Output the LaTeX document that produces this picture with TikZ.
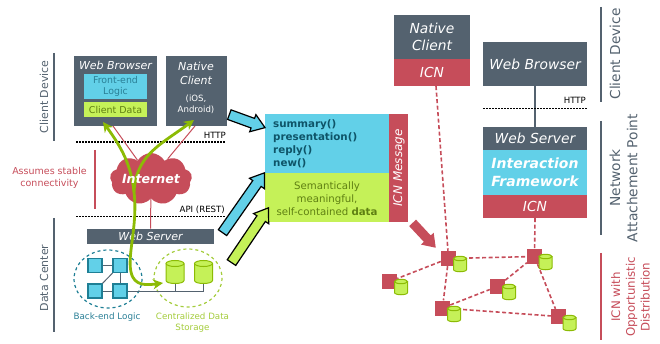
\documentclass[tikz,border=0pt]{standalone}
\usepackage{fontspec}
\setmainfont{DejaVu Sans}
\usepgflibrary{arrows.meta}
\usetikzlibrary{calc,shapes.symbols,shapes.arrows}
\definecolor{slate}{HTML}{54626F}
\definecolor{icnred}{HTML}{C64D5A}
\definecolor{sky}{HTML}{62D0E8}
\definecolor{lime}{HTML}{C5F158}
\definecolor{olive}{HTML}{8CBB05}
\definecolor{teal}{HTML}{1F7F95}
\definecolor{skytext}{HTML}{2A7F96}
\definecolor{darkteal}{HTML}{0E5468}
\definecolor{limetext}{HTML}{5F8012}
\definecolor{limelabel}{HTML}{A4CC3C}
\newcommand{\fs}[1]{\fontsize{#1}{\dimexpr#1pt*5/4\relax}\selectfont}

\begin{document}
\begin{tikzpicture}[
        x=1pt,
        y=-1pt,
        box/.style={
                rectangle,
                inner sep=0pt,
                text=white,
                align=center,
                font=\fs{11}\itshape
            },
        big box/.style={
                box,
                font=\fs{13.8}\itshape
            },
        side bar/.style={
                line width=2pt,
                draw=slate
            },
        side label/.style={
                rotate=90,
                text=slate,
                align=center
            },
        http line/.style={
                line width=1.6pt,
                dash pattern=on 1.5pt off 1.5pt
            },
        http label/.style={
                anchor=east,
                inner sep=0pt,
                font=\fs{8.6}
            },
        red link/.style={
                icnred,
                line width=1pt
            },
        red dash/.style={
                icnred,
                line width=1.6pt,
                dash pattern=on 4pt off 2.5pt
            },
        sync arrow/.style={
                olive,
                line width=2.8pt,
                arrows={-Stealth[length=10pt,width=10pt]}
            },
        block arrow/.style={
                single arrow,
                anchor=tip,
                inner sep=4.5pt,
                single arrow head extend=4pt,
                single arrow tip angle=70,
                single arrow head indent=0pt
            },
        logic node/.style={
                rectangle,
                inner sep=0pt,
                minimum size=14pt,
                fill=sky,
                draw=teal,
                line width=1.2pt
            },
        grey link/.style={
                slate,
                line width=1pt
            },
        store/.pic={
                \draw [fill=lime, draw=olive, line width=1pt] (-9,-8.5) -- (-9,8.5)
                    .. controls (-9,12.5) and (9,12.5) .. (9,8.5) -- (9,-8.5);
                \draw [fill=lime, draw=olive, line width=1pt] (0,-8.5) ellipse [x radius=9, y radius=3];
                \coordinate (-south) at (0,11.5);
            },
        small store/.pic={
                \draw [fill=lime, draw=olive, line width=1pt] (-6.5,-5.5) -- (-6.5,5.5)
                    .. controls (-6.5,8.5) and (6.5,8.5) .. (6.5,5.5) -- (6.5,-5.5);
                \draw [fill=lime, draw=olive, line width=1pt] (0,-5.5) ellipse [x radius=6.5, y radius=2.2];
            },
        icn node/.style={
                rectangle,
                inner sep=0pt,
                minimum size=15pt,
                fill=icnred
            }]
        \useasboundingbox (0,0) rectangle (660,344);

        \draw [side bar] (54,53) -- (54,141);
        \node [side label, font=\fs{11}] (client device) at (44,97) {Client Device};
        \draw [side bar] (54,218) -- (54,332);
        \node [side label, font=\fs{11}] (data center) at (44,278) {Data Center};

        \node [box, fill=slate, minimum width=83pt, minimum height=70pt] (browser) at (115.5,91) {};
        \node [box] (browser title) at (115.5,65) {Web Browser};
        \node [box, fill=sky, text=skytext, font=\fs{9.4}, minimum width=63pt, minimum height=25pt] (frontend) at (115.5,86.5) {Front-end\\Logic};
        \node [box, fill=lime, text=limetext, font=\fs{9.5}, minimum width=63pt, minimum height=15pt] (client data) at (115.5,110) {Client Data};
        \node [box, fill=slate, minimum width=61pt, minimum height=70pt] (native) at (196,91) {};
        \node [box] (native title) at (196,73.5) {Native\\Client};
        \node [box, font=\fs{8.6}] (native os) at (196,104.5) {(iOS,\\Android)};

        \coordinate (http west) at (76,142);
        \coordinate (http east) at (226,142);
        \coordinate (api west) at (76,216.5);
        \coordinate (api east) at (226,216.5);
        \draw [http line] (http west) -- (http east);
        \draw [http line] (api west) -- (api east);
        \node [http label] (http) at (226,135) {HTTP};
        \node [http label] (api) at (225,210) {API (REST)};

        \draw [icnred, line width=2pt] (95,150) -- (95,209);
        \node [text=icnred, align=center, font=\fs{9.5}] (stable) at (49.5,178) {Assumes stable\\connectivity};

        \node [cloud, cloud puffs=9, cloud puff arc=120, aspect=1.6, fill=icnred, inner sep=0pt, minimum width=82pt, minimum height=52pt] (cloud) at (151,179) {};
        \node [box, minimum width=127pt, minimum height=15.5pt, fill=slate] (server) at (150.5,236.5) {Web Server};
        \coordinate (browser link) at (113,126);
        \coordinate (native link) at (195,126);
        \draw [red link] (browser link) -- (cloud);
        \draw [red link] (native link) -- (cloud);
        \draw [red link] (cloud) -- (server);

        \draw [teal, line width=1.2pt, dash pattern=on 3pt off 3pt] (108,279) ellipse [x radius=34, y radius=29];
        \draw [limelabel, line width=1.2pt, dash pattern=on 3pt off 3pt] (188,278) ellipse [x radius=34, y radius=29];

        \node [logic node] (logic a) at (95,265.5) {};
        \node [logic node] (logic b) at (120,265.5) {};
        \node [logic node] (logic c) at (95,291) {};
        \node [logic node] (logic d) at (120,291) {};
        \pic (store a) at (175,272) {store};
        \pic (store b) at (203.5,272) {store};
        \draw [grey link] (logic a) -- (logic b);
        \draw [grey link] (logic b) -- (logic d);
        \draw [grey link] (logic c) -- (logic d);
        \draw [grey link] (logic c) -- (logic b);
        \draw [grey link] (logic d) -| (store a-south);
        \draw [grey link] (logic d) -| (store b-south);
        \node [text=skytext, font=\fs{8.8}] (logic label) at (107,317) {Back-end Logic};
        \node [text=limelabel, align=center, font=\fs{8.7}] (storage label) at (192.5,322.5) {Centralized Data\\Storage};

        \coordinate (hub) at (134,192);
        \coordinate (browser tip) at (103,122);
        \coordinate (native tip) at (194,120);
        \coordinate (store tip) at (163,283);
        \draw [sync arrow] (hub) .. controls (131,165) and (122,148) .. (browser tip);
        \draw [sync arrow] (hub) .. controls (136,155) and (160,145) .. (native tip);
        \draw [sync arrow] (hub) .. controls (138,225) and (127,255) .. (131,272) .. controls (134,287) and (148,285) .. (store tip);
        \node [box, font=\fs{12.6}\bfseries\itshape] (internet) at (151,179) {Internet};

        \node [box, fill=sky, minimum width=124pt, minimum height=59pt] (summary box) at (327,143.5) {};
        \node [box, fill=lime, minimum width=124pt, minimum height=49pt] (data box) at (327,197.5) {};
        \node [box, fill=icnred, minimum width=19pt, minimum height=108pt] (message box) at (398.5,168) {};
        \node [anchor=west, inner sep=0pt, align=left, text=darkteal, font=\fs{10.3}\bfseries] (calls) at (273,143.5) {summary()\\presentation()\\reply()\\new()};
        \node [text=limetext, align=center, inner sep=0pt, font=\fs{10.2}] (data text) at (327,198.5) {Semantically\\meaningful,\\self-contained \textbf{data}};
        \node [box, rotate=90, font=\fs{12}\itshape] (message label) at (399,168) {ICN Message};

        \node [block arrow, draw=black, line width=1.2pt, fill=sky, minimum height=38pt, rotate=-20] (arrow client) at (266,128) {};
        \node [block arrow, draw=black, line width=1.2pt, fill=sky, minimum height=73pt, rotate=55] (arrow logic) at (265,172) {};
        \node [block arrow, draw=black, line width=1.2pt, fill=lime, minimum height=66pt, rotate=56] (arrow data) at (269,207) {};
        \node [block arrow, fill=icnred, minimum height=34pt, rotate=-47] (arrow icn) at (436,248) {};

        \node [big box, fill=slate, minimum width=76pt, minimum height=44pt] (right native) at (432,37) {Native\\Client};
        \node [big box, fill=icnred, minimum width=76pt, minimum height=27pt] (right native icn) at (432,72.5) {ICN};

        \node [big box, fill=slate, minimum width=104pt, minimum height=44pt] (right browser) at (535,64) {Web Browser};
        \node [big box, fill=slate, minimum width=104pt, minimum height=23pt] (right server) at (535,138.5) {Web Server};
        \node [big box, fill=sky, minimum width=104pt, minimum height=45pt, font=\fs{14}\bfseries\itshape] (framework) at (535,172.5) {Interaction\\Framework};
        \node [big box, fill=icnred, minimum width=104pt, minimum height=23pt] (right icn) at (535,206.5) {ICN};
        \draw [slate, line width=2pt] (right browser) -- (right server);
        \coordinate (right http west) at (483,108.5);
        \coordinate (right http east) at (587,108.5);
        \draw [http line] (right http west) -- (right http east);
        \node [http label] (right http) at (586,100) {HTTP};

        \draw [side bar] (601,7) -- (601,102);
        \node [side label, font=\fs{13.7}] (right device) at (615,54) {Client Device};
        \draw [side bar] (601,121) -- (601,235);
        \node [side label, font=\fs{13.8}] (attachment) at (623.5,178) {Network\\Attachement Point};
        \draw [icnred, line width=2pt] (601,253) -- (601,340);
        \node [side label, text=icnred, font=\fs{11.8}] (opportunistic) at (630.5,297) {ICN with\\Opportunistic\\Distribution};

        \node [icn node] (icn a) at (448.5,258.5) {};
        \node [icn node] (icn b) at (534.5,256.5) {};
        \node [icn node] (icn c) at (389.5,281.5) {};
        \node [icn node] (icn d) at (497.5,286.5) {};
        \node [icn node] (icn e) at (442.5,308) {};
        \node [icn node] (icn f) at (558.5,316.5) {};

        \coordinate (native drop) at ($(right native icn.south) + (4,0)$);
        \draw [red dash] (native drop) -- (icn a);
        \draw [red dash] (right icn.south) -- (icn b);
        \draw [red dash] (icn a) -- (icn b);
        \draw [red dash] (icn a) -- (icn c);
        \draw [red dash] (icn a) -- (icn e);
        \draw [red dash] (icn e) -- (icn d);
        \draw [red dash] (icn d) -- (icn b);
        \draw [red dash] (icn e) -- (icn f);
        \draw [red dash] (icn b) -- (icn f);

        \pic (cache a) at ($(icn a) + (11.5,5.5)$) {small store};
        \pic (cache b) at ($(icn b) + (11,5.5)$) {small store};
        \pic (cache c) at ($(icn c) + (11.5,5.5)$) {small store};
        \pic (cache d) at ($(icn d) + (11.5,5.5)$) {small store};
        \pic (cache e) at ($(icn e) + (11.5,6)$) {small store};
        \pic (cache f) at ($(icn f) + (11,6.5)$) {small store};
    \end{tikzpicture}
\end{document}
